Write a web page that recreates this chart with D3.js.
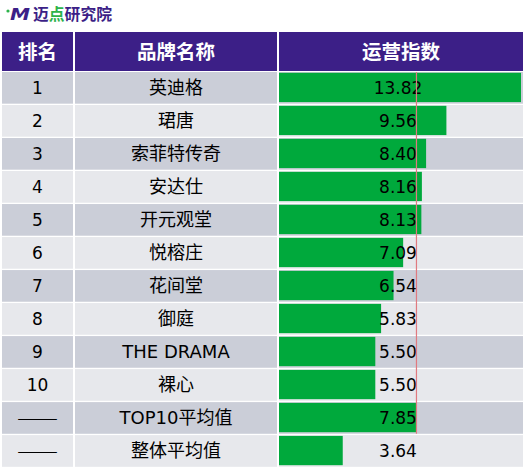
<!DOCTYPE html>
<html>
<head>
<meta charset="utf-8">
<script src="https://cdn.jsdelivr.net/npm/d3@7"></script>
<style>
  body { margin: 0; background: #fff; }
  svg { display: block; }
</style>
</head>
<body>
<svg id="chart"></svg>
<script>
const ranks = ["1", "2", "3", "4", "5", "6", "7", "8", "9", "10", "——", "——"];
const brands = ["英迪格", "珺唐", "索菲特传奇", "安达仕", "开元观堂", "悦榕庄", "花间堂", "御庭", "THE DRAMA", "裸心", "TOP10平均值", "整体平均值"];
const values = [13.82, 9.56, 8.40, 8.16, 8.13, 7.09, 6.54, 5.83, 5.50, 5.50, 7.85, 3.64];
const headers = ["排名", "品牌名称", "运营指数"];
const top10Mean = 7.85;

const width = 524, height = 467;
const purple = "#3c1f87", green = "#00a93c", dark = "#cbced8", light = "#e7e8ec";
const font = "'DejaVu Sans', 'Noto Sans CJK SC', sans-serif";
const cjk = "'Noto Sans CJK SC', sans-serif";

const svg = d3.select("#chart").attr("width", width).attr("height", height);

// columns
const cols = [{x0: 2, x1: 73}, {x0: 75, x1: 277}, {x0: 279, x1: 523}];

const y = d3.scaleBand()
    .domain(d3.range(values.length))
    .range([72, 72 + 32.9 * values.length])
    .paddingInner(0.04);

const x = d3.scaleLinear().domain([0, 13.82]).range([279, 521]);

// logo
svg.append("circle").attr("cx", 8).attr("cy", 11).attr("r", 1.6).attr("fill", "#2db34a");
svg.append("text")
    .attr("x", 10).attr("y", 20)
    .attr("font-family", font).attr("font-size", 16).attr("font-weight", "bold")
    .attr("font-style", "italic").attr("fill", purple)
    .attr("textLength", 20).attr("lengthAdjust", "spacingAndGlyphs")
    .text("M");
const logo = svg.append("text")
    .attr("x", 33).attr("y", 20)
    .attr("font-family", cjk).attr("font-size", 15.5).attr("font-weight", "bold")
    .attr("fill", purple)
    .attr("textLength", 79).attr("lengthAdjust", "spacingAndGlyphs");
logo.append("tspan").text("迈");
logo.append("tspan").attr("fill", "#2db34a").text("点");
logo.append("tspan").text("研究院");

// header
cols.forEach((c, i) => {
    svg.append("rect")
        .attr("x", c.x0).attr("y", 32)
        .attr("width", c.x1 - c.x0).attr("height", 39)
        .attr("fill", purple);
    svg.append("text")
        .attr("x", (c.x0 + c.x1) / 2).attr("y", 52)
        .attr("dy", "0.36em")
        .attr("text-anchor", "middle")
        .attr("font-family", cjk)
        .attr("font-size", 19.5)
        .attr("font-weight", "bold")
        .attr("fill", "#fff")
        .text(headers[i]);
});

// rows
const row = svg.append("g").selectAll("g")
    .data(values.map((v, i) => ({rank: ranks[i], brand: brands[i], value: v, i})))
    .join("g")
    .attr("transform", d => `translate(0,${y(d.i)})`);

cols.forEach(c => {
    row.append("rect")
        .attr("x", c.x0).attr("width", c.x1 - c.x0)
        .attr("height", y.bandwidth())
        .attr("fill", d => d.i % 2 === 0 ? dark : light);
});

row.append("rect")
    .attr("x", x(0))
    .attr("y", 0.8)
    .attr("width", d => x(d.value) - x(0))
    .attr("height", y.bandwidth() - 2.4)
    .attr("fill", green);

const cy = y.bandwidth() / 2;
row.append("text")
    .attr("x", (cols[0].x0 + cols[0].x1) / 2).attr("y", cy).attr("dy", "0.36em")
    .attr("text-anchor", "middle")
    .attr("font-family", font).attr("font-size", 17)
    .each(function (d) {
        if (d.rank.startsWith("—")) {
            d3.select(this).attr("font-family", cjk)
                .attr("textLength", 41).attr("lengthAdjust", "spacingAndGlyphs");
        }
    })
    .text(d => d.rank);

row.append("text")
    .attr("x", (cols[1].x0 + cols[1].x1) / 2).attr("y", cy).attr("dy", "0.36em")
    .attr("text-anchor", "middle")
    .attr("font-family", font).attr("font-size", 18)
    .text(d => d.brand);

row.append("text")
    .attr("x", 398).attr("y", cy).attr("dy", "0.36em")
    .attr("text-anchor", "middle")
    .attr("font-family", font).attr("font-size", 17)
    .text(d => d.value.toFixed(2));

// TOP10 mean line
svg.append("line")
    .attr("x1", x(top10Mean)).attr("x2", x(top10Mean))
    .attr("y1", 72).attr("y2", y(10) + y.bandwidth())
    .attr("stroke", "#e07a80")
    .attr("stroke-width", 1.2);
</script>
</body>
</html>
